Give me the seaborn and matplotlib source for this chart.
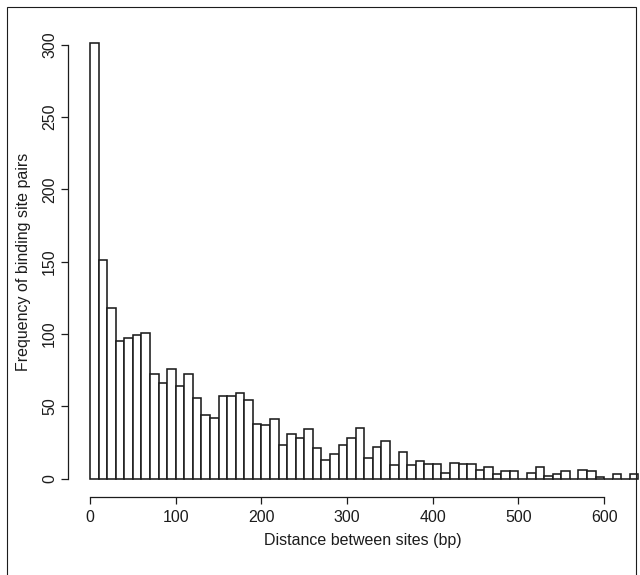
import numpy as np
import pandas as pd
import matplotlib
matplotlib.use("Agg")
import matplotlib.pyplot as plt
import seaborn as sns
from matplotlib.patches import Rectangle

# Histogram of distances between binding sites, 10 bp bins from 0 to 640 bp
bin_width = 10
bin_starts = list(range(0, 640, bin_width))
pair_counts = [
    301, 151, 118, 95, 97, 99, 101, 72, 66, 76,
    64, 72, 56, 44, 42, 57, 57, 59, 54, 38,
    37, 41, 23, 31, 28, 34, 21, 13, 17, 23,
    28, 35, 14, 22, 26, 9, 18, 9, 12, 10,
    10, 4, 11, 10, 10, 6, 8, 3, 5, 5,
    0, 4, 8, 2, 3, 5, 0, 6, 5, 1,
    0, 3, 0, 3,
]
x_ticks = [0, 100, 200, 300, 400, 500, 600]
y_ticks = [0, 50, 100, 150, 200, 250, 300]
x_label = "Distance between sites (bp)"
y_label = "Frequency of binding site pairs"

df = pd.DataFrame({
    "distance": [s + bin_width / 2 for s in bin_starts],
    "pairs": pair_counts,
})

sns.set_style("ticks")
plt.rcParams["font.family"] = ["Liberation Sans", "DejaVu Sans"]

W, H = 640, 575
fig = plt.figure(figsize=(W / 100, H / 100), dpi=100)
ax = fig.add_axes([67.5 / W, (H - 497) / H, 1 - 67.5 / W, (497 - 26) / H])

sns.histplot(
    data=df, x="distance", weights="pairs",
    binwidth=bin_width, binrange=(0, 640),
    color="white", edgecolor="#1c1c1c", linewidth=1.15, alpha=1, ax=ax,
)

ax.set_xlim(-26.3, 641.8)
ax.set_ylim(-12.8, 313.1)
for side in ("top", "right"):
    ax.spines[side].set_visible(False)
for side in ("left", "bottom"):
    ax.spines[side].set_linewidth(0.9)
    ax.spines[side].set_color("#1c1c1c")
ax.spines["left"].set_bounds(0, 300)
ax.spines["bottom"].set_bounds(0, 600)

ax.set_xticks(x_ticks)
ax.set_yticks(y_ticks)
ax.tick_params(axis="both", length=5, width=0.9, color="#1c1c1c",
               labelsize=11.5, labelcolor="#1c1c1c")
ax.tick_params(axis="x", pad=4.5)
ax.tick_params(axis="y", pad=2.5)
for lbl in ax.get_yticklabels():
    lbl.set_rotation(90)
    lbl.set_va("center")

ax.set_xlabel(x_label, fontsize=11.5, color="#1c1c1c", va="center")
ax.set_ylabel(y_label, fontsize=11.5, color="#1c1c1c", va="center")
ax.xaxis.set_label_coords(363 / W, (H - 540) / H, transform=fig.transFigure)
ax.yaxis.set_label_coords(24 / W, (H - 261.5) / H, transform=fig.transFigure)

# Thin frame around the figure
fig.patches.append(Rectangle((7 / W, -0.01), (636 - 7) / W, 1.01 - 7 / H,
                             transform=fig.transFigure, fill=False,
                             edgecolor="#1c1c1c", linewidth=0.8))

fig.savefig("out.png", dpi=100, facecolor="white")
